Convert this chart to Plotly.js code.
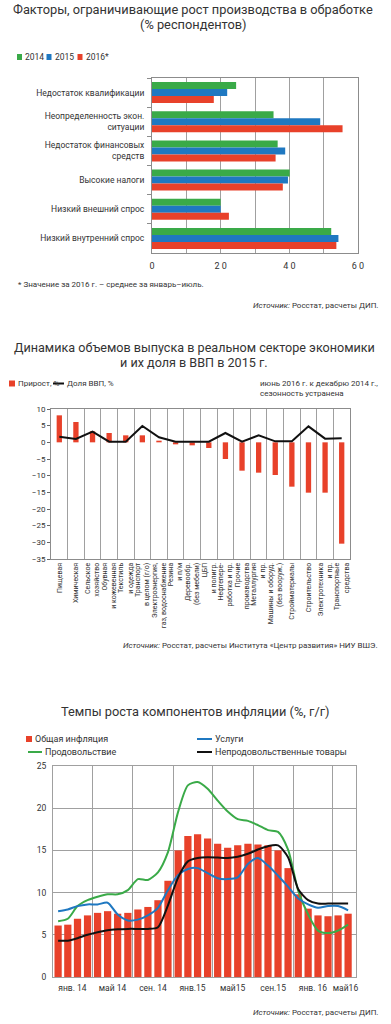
<!DOCTYPE html>
<html>
<head>
<meta charset="utf-8">
<script src="https://cdn.plot.ly/plotly-3.0.1.min.js"></script>
<style>
  html, body { margin: 0; padding: 0; background: #fff; }
  #chart { width: 391px; height: 1024px; }
</style>
</head>
<body>
<div id="chart"></div>
<script>
// ---------- Chart 1 data ----------
const factors = [
  'Недостаток квалификации',
  'Неопределенность экон.<br>ситуации',
  'Недостаток финансовых<br>средств',
  'Высокие налоги',
  'Низкий внешний спрос',
  'Низкий внутренний спрос'
];
const v2014 = [24.5, 35.4, 36.6, 40.1, 20.0, 52.2];
const v2015 = [21.9, 49.0, 38.8, 39.6, 20.0, 54.3];
const v2016 = [18.0, 55.5, 36.0, 38.1, 22.4, 53.7];
const x1TickVals = [0, 10, 20, 30, 40, 50, 60];
const x1TickText = ['0', '', '2 0', '', '4 0', '', '6 0'];

// ---------- Chart 2 data ----------
const sectors = [
  'Пищевая',
  'Химическая',
  'Сельское<br>хозяйство',
  'Обувная<br>и кожевенная',
  'Текстиль<br>и одежда',
  'Транспорт<br>в целом (г/о)',
  'Электроэнергия,<br>газ, водоснабжение',
  'Резина<br>и п/м',
  'Деревообр.<br>(без мебели)',
  'ЦБП<br>и полигр.',
  'Нефтепере-<br>работка и пр.',
  'Прочие<br>производства',
  'Металлургия<br>и пр.',
  'Машины и оборуд.<br>(без вооруж.)',
  'Стройматериалы',
  'Строительство',
  'Электротехника<br>и пр.',
  'Транспортные<br>средства'
];
const growth = [8.1, 6.1, 3.3, 2.8, 2.1, 2.1, 0.5, -0.6, -0.9, -1.7, -5.0, -8.5, -9.1, -9.8, -13.3, -15.1, -15.1, -30.4];
const gdpShare = [1.7, 1.0, 3.2, 0.2, 0.2, 4.9, 1.5, 0.2, 0.2, 0.2, 2.8, 0.2, 2.1, 0.3, 0.3, 4.8, 1.1, 1.2];
const y2TickVals = [10, 5, 0, -5, -10, -15, -20, -25, -30, -35];

// ---------- Chart 3 data ----------
const months = [
  '2014-01','2014-02','2014-03','2014-04','2014-05','2014-06','2014-07','2014-08','2014-09','2014-10','2014-11','2014-12',
  '2015-01','2015-02','2015-03','2015-04','2015-05','2015-06','2015-07','2015-08','2015-09','2015-10','2015-11','2015-12',
  '2016-01','2016-02','2016-03','2016-04','2016-05','2016-06'
];
const totalInfl = [6.1,6.2,6.9,7.3,7.6,7.8,7.5,7.6,8.0,8.3,9.1,11.4,15.0,16.7,16.9,16.4,15.8,15.3,15.6,15.8,15.7,15.6,15.0,12.9,9.8,8.1,7.3,7.2,7.3,7.5];
const foodInfl = [6.6,6.9,8.4,9.1,9.5,9.8,9.8,10.3,11.6,11.5,12.4,14.8,19.6,22.7,23.1,22.3,20.9,19.6,18.7,18.5,18.0,17.4,17.2,15.1,10.2,7.4,5.5,5.2,5.5,6.2];
const servInfl = [7.8,8.0,8.4,8.6,8.6,8.8,7.4,6.7,6.8,7.3,8.2,10.3,12.1,12.8,12.9,12.3,11.7,11.6,11.8,13.4,14.1,13.2,12.0,10.7,9.3,8.6,8.2,8.4,8.4,7.9];
const nonfoodInfl = [4.3,4.3,4.6,5.0,5.3,5.55,5.65,5.7,5.7,5.7,5.9,8.5,11.8,13.7,14.1,14.2,14.15,14.1,14.25,14.6,15.1,15.5,15.6,14.2,10.4,9.1,8.7,8.7,8.7,8.7];
const x3TickVals = ['2014-03-01','2014-07-01','2014-11-01','2015-03-01','2015-07-01','2015-11-01','2016-03-01','2016-06-08'];
const x3TickText = ['янв. 14','май 14','сен. 14','янв.15','май15','сен.15','янв. 16','май16'];

// ---------- Styles ----------
const W = 391, H = 1024;
const px = x => x / W;
const py = y => 1 - y / H;
const FONT = 'Roboto, "Open Sans", "DejaVu Sans", sans-serif';
const TXT = '#333333';
const GREEN = '#3aaa48', BLUE = '#1f78c1', RED = '#e8412a', BLACK = '#111111';
const GRID = '#a0a0a0', LINE = '#8c8c8c';

const traces = [
  // chart 1
  {type:'bar', orientation:'h', y:factors, x:v2014, xaxis:'x', yaxis:'y', marker:{color:GREEN}, width:0.24, offset:-0.36, name:'2014'},
  {type:'bar', orientation:'h', y:factors, x:v2015, xaxis:'x', yaxis:'y', marker:{color:BLUE}, width:0.24, offset:-0.12, name:'2015'},
  {type:'bar', orientation:'h', y:factors, x:v2016, xaxis:'x', yaxis:'y', marker:{color:RED}, width:0.24, offset:0.12, name:'2016*'},
  // chart 2
  {type:'bar', x:sectors, y:growth, xaxis:'x2', yaxis:'y2', marker:{color:RED}, width:0.32, name:'Прирост, %'},
  {type:'scatter', mode:'lines', x:sectors, y:gdpShare, xaxis:'x2', yaxis:'y2', line:{color:BLACK, width:2}, name:'Доля ВВП, %'},
  // chart 3
  {type:'bar', x:months, y:totalInfl, xaxis:'x3', yaxis:'y3', xperiod:'M1', xperiodalignment:'middle', width:22*86400000, marker:{color:RED}, name:'Общая инфляция'},
  {type:'scatter', mode:'lines', x:months, y:foodInfl, xaxis:'x3', yaxis:'y3', xperiod:'M1', xperiodalignment:'middle', line:{color:GREEN, width:2, shape:'spline', smoothing:0.7}, name:'Продовольствие'},
  {type:'scatter', mode:'lines', x:months, y:servInfl, xaxis:'x3', yaxis:'y3', xperiod:'M1', xperiodalignment:'middle', line:{color:BLUE, width:2, shape:'spline', smoothing:0.7}, name:'Услуги'},
  {type:'scatter', mode:'lines', x:months, y:nonfoodInfl, xaxis:'x3', yaxis:'y3', xperiod:'M1', xperiodalignment:'middle', line:{color:BLACK, width:2, shape:'spline', smoothing:0.7}, name:'Непродовольственные товары'}
];

function ann(text, x, y, size, anchor, extra) {
  return Object.assign({
    text: text, x: px(x), y: py(y), xref:'paper', yref:'paper',
    xanchor: anchor || 'left', yanchor:'middle', showarrow:false,
    font:{family:FONT, size:size, color:TXT}
  }, extra || {});
}
function rect(x0, y0, x1, y1, color) {
  return {type:'rect', xref:'paper', yref:'paper', x0:px(x0), x1:px(x1), y0:py(y1), y1:py(y0), fillcolor:color, line:{width:0}};
}
function hline(x0, x1, y, color) {
  return {type:'line', xref:'paper', yref:'paper', x0:px(x0), x1:px(x1), y0:py(y), y1:py(y), line:{color:color, width:2}};
}

const annotations = [
  // chart 1
  ann('Факторы, ограничивающие рост производства в обработке', 193, 9, 12.8, 'center'),
  ann('(% респондентов)', 193, 24, 12.8, 'center'),
  ann('2014', 23, 57, 8.5),
  ann('2015', 53, 57, 8.5),
  ann('2016*', 84, 57, 8.5),
  ann('* Значение за 2016 г. – среднее за январь–июль.', 16, 284, 8),
  ann('<i>Источник:</i> Росстат, расчеты ДИП.', 380, 305, 8, 'right'),
  // chart 2
  ann('Динамика объемов выпуска в реальном секторе экономики', 194, 347, 12.6, 'center'),
  ann('и их доля в ВВП в 2015 г.', 194, 362, 12.6, 'center'),
  ann('Прирост, %', 16, 383.5, 8),
  ann('Доля ВВП, %', 65, 383.5, 8),
  ann('июнь 2016 г. к декабрю 2014 г.,', 258, 383.5, 8),
  ann('сезонность устранена', 258, 393.5, 8),
  ann('<i>Источник:</i> Росстат, расчеты Института «Центр развития» НИУ ВШЭ.', 380, 645, 8, 'right'),
  // chart 3
  ann('Темпы роста компонентов инфляции (%, г/г)', 195, 711, 12.8, 'center'),
  ann('Общая инфляция', 33, 739, 9),
  ann('Продовольствие', 43, 752, 9),
  ann('Услуги', 213, 739, 9),
  ann('Непродовольственные товары', 213, 752, 9),
  ann('<i>Источник:</i> Росстат, расчеты ДИП.', 380, 1012, 8, 'right')
];

const shapes = [
  rect(17, 54, 22, 60, GREEN),
  rect(46.5, 54, 51.5, 60, BLUE),
  rect(77.5, 54, 82.5, 60, RED),
  rect(9, 380.5, 15, 386.5, RED),
  hline(53, 64, 383.5, BLACK),
  rect(26, 736, 32, 742, RED),
  hline(28, 42, 752, GREEN),
  hline(197, 212, 739, BLUE),
  hline(197, 212, 752, BLACK)
];

const layout = {
  width: W, height: H,
  margin: {l:0, r:0, t:0, b:0, pad:0},
  paper_bgcolor:'#ffffff', plot_bgcolor:'#ffffff',
  showlegend:false,
  font:{family:FONT, color:TXT, size:8.5},
  barmode:'overlay',
  xaxis:{
    domain:[px(152), px(358)], anchor:'y', range:[0,60],
    tickmode:'array', tickvals:x1TickVals, ticktext:x1TickText,
    showgrid:true, gridcolor:GRID, gridwidth:1, zeroline:false,
    showline:true, linecolor:LINE, mirror:true, ticks:'',
    tickfont:{size:9, color:TXT}, ticklabelstandoff:4, fixedrange:true
  },
  yaxis:{
    domain:[py(253), py(78)], anchor:'x', type:'category', autorange:'reversed',
    tickson:'boundaries', ticks:'outside', ticklen:4, tickcolor:LINE,
    showgrid:false, zeroline:false, showline:true, linecolor:LINE, mirror:true,
    tickfont:{size:8.5, color:TXT}, ticklabelstandoff:5, fixedrange:true
  },
  xaxis2:{
    domain:[px(51), px(350)], anchor:'y2', type:'category',
    tickson:'boundaries', showgrid:true, gridcolor:GRID, gridwidth:1,
    ticks:'', tickangle:-90, tickfont:{size:7, color:TXT},
    showline:true, linecolor:LINE, mirror:true, fixedrange:true
  },
  yaxis2:{
    domain:[py(559), py(409)], anchor:'x2', range:[-35,10],
    tickmode:'array', tickvals:y2TickVals,
    showgrid:false, zeroline:false, ticks:'outside', ticklen:3, tickcolor:'#666',
    tickfont:{size:8, color:TXT}, showline:true, linecolor:LINE, mirror:true, fixedrange:true
  },
  xaxis3:{
    domain:[px(53), px(356)], anchor:'y3', type:'date',
    range:['2014-01-01','2016-07-10'],
    tickmode:'array', tickvals:x3TickVals, ticktext:x3TickText,
    showgrid:false, ticks:'', tickfont:{size:8.5, color:TXT}, ticklabelstandoff:3,
    minor:{tick0:'2014-01-01', dtick:'M4', showgrid:true, gridcolor:GRID, gridwidth:1, ticks:''},
    showline:true, linecolor:GRID, mirror:true, fixedrange:true
  },
  yaxis3:{
    domain:[py(977), py(766)], anchor:'x3', range:[0,25], dtick:5,
    showgrid:true, gridcolor:GRID, gridwidth:1, zeroline:false,
    showline:true, linecolor:GRID, mirror:true, ticks:'',
    tickfont:{size:8.5, color:TXT}, ticklabelstandoff:4, fixedrange:true
  },
  annotations: annotations,
  shapes: shapes
};

Plotly.newPlot('chart', traces, layout, {staticPlot:true, displayModeBar:false});
</script>
</body>
</html>
